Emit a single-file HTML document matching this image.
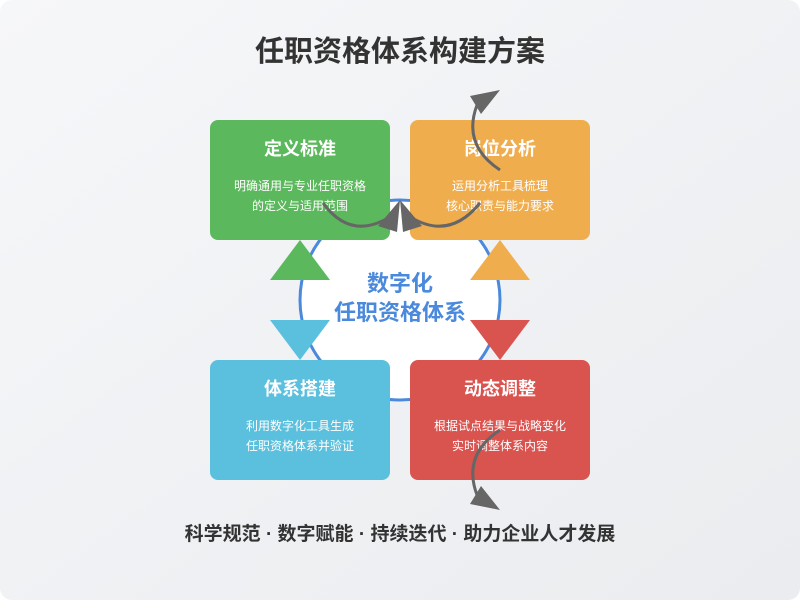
<!DOCTYPE html>
<html><head><meta charset="utf-8"><style>
html,body{margin:0;padding:0;background:#fff}
body{width:800px;height:600px;overflow:hidden}
</style></head><body>
<svg width="800" height="600" viewBox="0 0 800 600" xmlns="http://www.w3.org/2000/svg" font-family="Liberation Sans, Noto Sans CJK SC, sans-serif">
<defs><linearGradient id="bg" x1="0" y1="0" x2="1" y2="1"><stop offset="0" stop-color="#f6f7f9"/><stop offset="1" stop-color="#eaecef"/></linearGradient></defs>
<rect x="0" y="0" width="800" height="600" rx="12" fill="url(#bg)"/>
<text x="400" y="61" text-anchor="middle" font-size="29" font-weight="bold" fill="#333">任职资格体系构建方案</text>
<circle cx="400" cy="300" r="100" fill="#fff" stroke="#4a89dc" stroke-width="3"/>
<text x="400" y="291" text-anchor="middle" font-size="22" font-weight="bold" fill="#4a89dc">数字化</text>
<text x="400" y="320" text-anchor="middle" font-size="22" font-weight="bold" fill="#4a89dc">任职资格体系</text>
<rect x="210" y="120" width="180" height="120" rx="8" fill="#5cb85c"/>
<rect x="410" y="120" width="180" height="120" rx="8" fill="#f0ad4e"/>
<rect x="210" y="360" width="180" height="120" rx="8" fill="#5bc0de"/>
<rect x="410" y="360" width="180" height="120" rx="8" fill="#d9534f"/>
<g fill="#fff" text-anchor="middle">
<text x="300" y="155" font-size="18" font-weight="bold">定义标准</text>
<text x="300" y="190" font-size="12">明确通用与专业任职资格</text>
<text x="300" y="210" font-size="12">的定义与适用范围</text>
<text x="500" y="155" font-size="18" font-weight="bold">岗位分析</text>
<text x="500" y="190" font-size="12">运用分析工具梳理</text>
<text x="500" y="210" font-size="12">核心职责与能力要求</text>
<text x="300" y="395" font-size="18" font-weight="bold">体系搭建</text>
<text x="300" y="430" font-size="12">利用数字化工具生成</text>
<text x="300" y="450" font-size="12">任职资格体系并验证</text>
<text x="500" y="395" font-size="18" font-weight="bold">动态调整</text>
<text x="500" y="430" font-size="12">根据试点结果与战略变化</text>
<text x="500" y="450" font-size="12">实时调整体系内容</text>
</g>
<polygon points="300,240 330,280 270,280" fill="#5cb85c"/>
<polygon points="500,240 530,280 470,280" fill="#f0ad4e"/>
<polygon points="270,320 330,320 300,360" fill="#5bc0de"/>
<polygon points="470,320 530,320 500,360" fill="#d9534f"/>
<g fill="none" stroke="#666" stroke-width="3">
<path d="M323,203 Q350,240 388,218"/>
<path d="M480,203 Q450,240 412,218"/>
<path d="M500,170 Q462,145 477,105"/>
<path d="M500,430 Q462,455 477,495"/>
</g>
<g fill="#666">
<polygon points="400,200 397,232 378,226"/>
<polygon points="400,200 403,232 422,226"/>
<polygon points="500,90 470,96 481,114"/>
<polygon points="500,510 470,504 481,486"/>
</g>
<text x="400" y="540" text-anchor="middle" font-size="19" font-weight="bold" fill="#333">科学规范 · 数字赋能 · 持续迭代 · 助力企业人才发展</text>
</svg>
</body></html>
